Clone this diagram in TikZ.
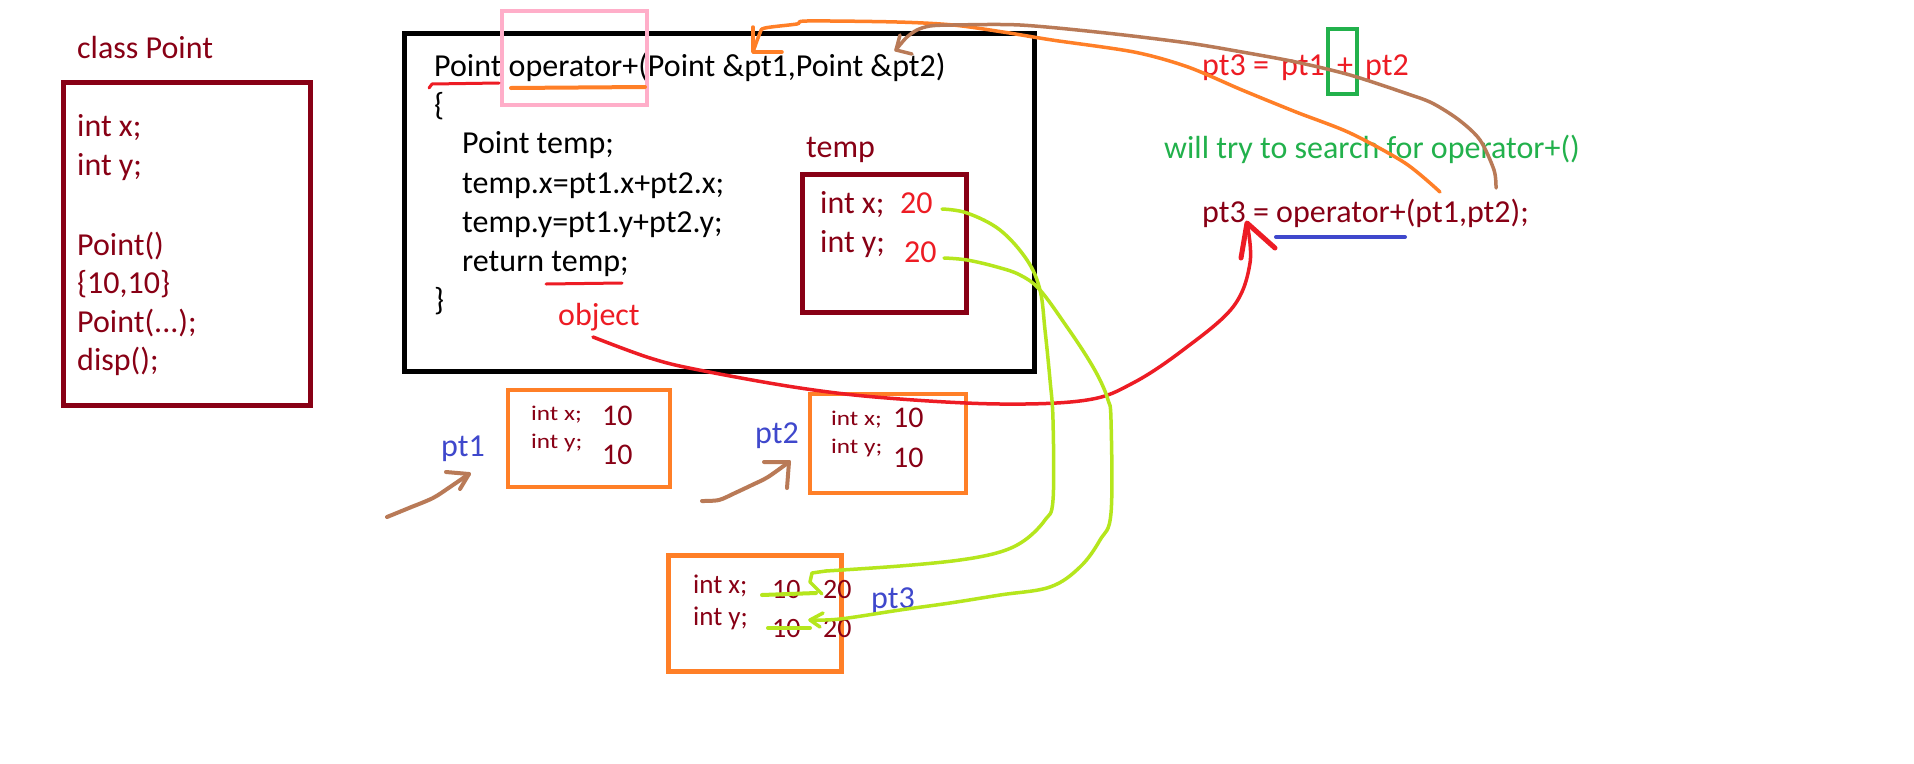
\documentclass[tikz,border=0pt]{standalone}
\usepackage{fontspec}
\setmainfont{Carlito}
\definecolor{dred}{HTML}{880015}
\definecolor{pred}{HTML}{ED1C24}
\definecolor{porange}{HTML}{FF7F27}
\definecolor{pgreen}{HTML}{22B14C}
\definecolor{plime}{HTML}{B5E61D}
\definecolor{pbrown}{HTML}{B97A57}
\definecolor{ppink}{HTML}{FFAEC9}
\definecolor{pblue}{HTML}{3F48CC}
\begin{document}
\begin{tikzpicture}[x=1pt,y=-1pt,
  t/.style={inner sep=0pt, anchor=base west, font=\fontsize{32}{38}\selectfont},
  num/.style={inner sep=0pt, anchor=base west, font=\fontsize{30}{36}\selectfont, text=dred},
  sm/.style={inner sep=0pt, anchor=base west, font=\fontsize{21}{25}\selectfont, text=dred},
  box/.style={draw, line width=5pt, outer sep=0pt, inner sep=0pt, anchor=north west},
  pen/.style={line width=3.5pt, line cap=round, line join=round},
]
\fill[white] (0,0) rectangle (1914,763);
\useasboundingbox (0,0) rectangle (1914,763);

% ---------- class Point ----------
\node[t, text=dred] (cls) at (77,58) {class Point};
\node[box, draw=dred, minimum width=247pt, minimum height=323pt] (clsbox) at (63.5,82.5) {};
\node[t, text=dred] (c1) at (77,136) {int x;};
\node[t, text=dred] (c2) at (77,175) {int y;};
\node[t, text=dred] (c3) at (77,255) {Point()};
\node[t, text=dred] (c4) at (77,293) {\{10,10\}};
\node[t, text=dred] (c5) at (77,332) {Point(...);};
\node[t, text=dred] (c6) at (77,370) {disp();};

% ---------- operator function ----------
\node[box, draw=black, minimum width=630pt, minimum height=338.5pt] (fn) at (404,33) {};
\node[t] (f1) at (434,76) {Point operator+(Point \&pt1,Point \&pt2)};
\node[t] (f2) at (434,115) {\{};
\node[t] (f3) at (462,153) {Point temp;};
\node[t] (f4) at (462,193) {temp.x=pt1.x+pt2.x;};
\node[t] (f5) at (462,232) {temp.y=pt1.y+pt2.y;};
\node[t] (f6) at (462,271) {return temp;};
\node[t] (f7) at (434,310) {\}};
\node[box, draw=ppink, line width=4pt, minimum width=145pt, minimum height=94pt] (pink) at (502,11) {};
\draw[pen, pred, line width=3pt] (429,88) -- (432,84) -- (499,83);
\draw[pen, porange, line width=4pt] (511,88) -- (645,87);
\draw[pen, pred, line width=3pt] (546,284) -- (622,283);
\node[t, text=pred] (obj) at (558,325) {object};

% ---------- temp object ----------
\node[t, text=dred] (tlab) at (806,157) {temp};
\node[box, draw=dred, minimum width=164pt, minimum height=138pt] (tbox) at (802.5,174.5) {};
\node[t, text=dred] (tx) at (820,213) {int x;};
\node[t, text=pred] (tx20) at (900,213) {20};
\node[t, text=dred] (ty) at (820,252) {int y;};
\node[t, text=pred] (ty20) at (904,262) {20};

% ---------- pt1 ----------
\node[box, draw=porange, line width=4pt, minimum width=162pt, minimum height=97pt] (p1box) at (508,390) {};
\node[sm] (p1x) at (531,420) {\scalebox{1.2}[1]{int x;}};
\node[num] (p1xv) at (602,425) {10};
\node[sm] (p1y) at (531,448) {\scalebox{1.2}[1]{int y;}};
\node[num] (p1yv) at (602,464) {10};
\node[t, text=pblue] (p1lab) at (441,456) {pt1};

% ---------- pt2 ----------
\node[box, draw=porange, line width=4pt, minimum width=156pt, minimum height=99pt] (p2box) at (810,394) {};
\node[sm] (p2x) at (831,425) {\scalebox{1.2}[1]{int x;}};
\node[num] (p2xv) at (893,427) {10};
\node[sm] (p2y) at (831,453) {\scalebox{1.2}[1]{int y;}};
\node[num] (p2yv) at (893,467) {10};
\node[t, text=pblue] (p2lab) at (755,443) {pt2};

% ---------- pt3 ----------
\node[box, draw=porange, minimum width=173pt, minimum height=116pt] (p3box) at (668.5,555.5) {};
\node[sm, font=\fontsize{27}{32}\selectfont] (p3x) at (693,593) {int x;};
\node[num, font=\fontsize{28}{34}\selectfont] (p3xo) at (772,598) {10};
\node[num, font=\fontsize{28}{34}\selectfont] (p3xn) at (823,598) {20};
\node[sm, font=\fontsize{27}{32}\selectfont] (p3y) at (693,625) {int y;};
\node[num, font=\fontsize{28}{34}\selectfont] (p3yo) at (772,637) {10};
\node[num, font=\fontsize{28}{34}\selectfont] (p3yn) at (823,637) {20};
\node[t, text=pblue] (p3lab) at (871,608) {pt3};
\draw[pen, plime, line width=4pt] (762,595) -- (816,593);
\draw[pen, plime, line width=4pt] (768,628) -- (810,628);

% ---------- brown pointer arrows ----------
\coordinate (a1s) at (387,517);
\coordinate (a1t) at (469,474);
\draw[pen, pbrown, line width=4pt] plot[smooth] coordinates {(a1s) (409,508) (433,498) (450,487) (469,474)};
\draw[pen, pbrown, line width=4pt] (460,489) -- (a1t) -- (446,472);
\coordinate (a2s) at (702,501);
\coordinate (a2t) at (789,462);
\draw[pen, pbrown, line width=4pt] plot[smooth] coordinates {(a2s) (719,500) (735,493) (752,485) (768,477) (789,462)};
\draw[pen, pbrown, line width=4pt] (787,488) -- (a2t) -- (764,462);

% ---------- right side expressions ----------
\node[t, text=pred] (e1) at (1202,75) {pt3 =};
\node[t, text=pred] (e2) at (1281,75) {pt1};
\node[t, text=pred] (e3) at (1337,75) {+};
\node[t, text=pred] (e4) at (1365,75) {pt2};
\node[box, draw=pgreen, line width=4pt, minimum width=29pt, minimum height=65pt] (gbox) at (1328,29) {};
\node[t, text=pgreen] (search) at (1164,158) {will try to search for operator+()};
\node[t, text=dred] (call) at (1202,222) {pt3 = operator+(pt1,pt2);};
\draw[pen, pblue, line width=4pt] (1276,237) -- (1405,237);

% ---------- object -> pt3 (red) ----------
\coordinate (rs) at (593,337);
\coordinate (rt) at (1247,223);
\draw[pen, pred] plot[smooth, tension=0.6] coordinates {(rs) (650,358) (699,370) (800,388) (887,398) (1000,404) (1087,400) (1133,383) (1183,350) (1233,307) (1250,263) (rt)};
\draw[pen, pred, line width=5pt] (1241,258) -- (rt) -- (1275,248);

% ---------- temp -> pt3 (lime) ----------
\coordinate (g1s) at (942,209);
\coordinate (g1t) at (826,571);
\draw[pen, plime] plot[smooth, tension=0.6] coordinates {(g1s) (967,213) (1000,230) (1027,260) (1040,290) (1045,330) (1050,380) (1053,420) (1053,500) (1045,520) (1025,540) (1000,552) (960,560) (900,566) (g1t)};
\draw[pen, plime] (g1t) -- (812,573) -- (810,582) -- (822,594);
\coordinate (g2s) at (944,258);
\coordinate (g2t) at (810,620);
\draw[pen, plime] plot[smooth, tension=0.6] coordinates {(g2s) (967,260) (997,267) (1020,275) (1040,290) (1067,327) (1087,357) (1100,380) (1108,400) (1111,420) (1111,513) (1100,540) (1080,567) (1050,587) (1000,595) (950,603) (900,610) (840,619) (g2t)};
\draw[pen, plime] (823,613) -- (g2t) -- (820,627);

% ---------- orange & brown: call -> signature ----------
\coordinate (os) at (1440,192);
\coordinate (ot) at (753,52);
\draw[pen, porange] plot[smooth, tension=0.5] coordinates {(os) (1405,163) (1350,133) (1296,112) (1242,90) (1188,67) (1134,52) (1052,40) (1003,32) (953,25) (897,22) (807,21) (797,24) (765,28) (760,33) (ot)};
\draw[pen, porange] (753,27) -- (ot) -- (782,52);
\coordinate (bs) at (1496,188);
\coordinate (bt) at (896,50);
\draw[pen, pbrown] plot[smooth, tension=0.5] coordinates {(bs) (1494,170) (1480,140) (1459,120) (1432,103) (1405,93) (1350,75) (1296,62) (1242,52) (1188,43) (1106,33) (1020,25) (953,25) (930,26) (917,30) (907,37) (899,46) (bt)};
\draw[pen, pbrown] (900,35) -- (bt) -- (912,54);
\end{tikzpicture}
\end{document}
